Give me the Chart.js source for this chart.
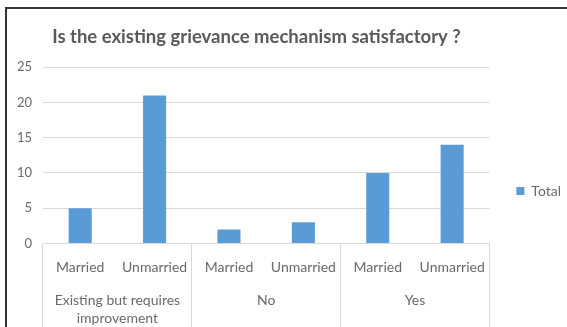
<!DOCTYPE html>
<html>
<head>
<meta charset="utf-8">
<title>Grievance mechanism</title>
<script src="https://cdn.jsdelivr.net/npm/chart.js@4"></script>
<style>
    html, body {
        margin: 0;
        padding: 0;
        background: #ffffff;
        overflow: hidden;
    }
    body {
        width: 567px;
        height: 327px;
        position: relative;
    }
    #frame {
        position: absolute;
        left: 5px;
        top: 7px;
        width: 700px;
        height: 400px;
        border: 2px solid #333333;
        pointer-events: none;
        z-index: 2;
    }
    #chart-wrap {
        position: absolute;
        left: -58px;
        top: 9px;
        width: 629px;
        height: 364px;
    }
</style>
</head>
<body>
<div id="frame"></div>
<div id="chart-wrap"><canvas id="grievance-chart"></canvas></div>
<script>
// marital status under each answer, then the answer itself
const statusLabels = ['Married', 'Unmarried', 'Married', 'Unmarried', 'Married', 'Unmarried'];
const answerLabels = [['Existing but requires', 'improvement'], 'No', 'Yes'];
const totals = [5, 21, 2, 3, 10, 14];

const yMax = 25;
const yStep = 5;

const TEXT_GREY = '#6a6a6a';
const GRID_GREY = '#d9d9d9';
const BAR_BLUE = '#5b9bd5';

const ctx = document.getElementById('grievance-chart').getContext('2d');

new Chart(ctx, {
    type: 'bar',
    data: {
        labels: statusLabels,
        datasets: [{
            label: 'Total',
            data: totals,
            backgroundColor: BAR_BLUE,
            borderWidth: 0,
            categoryPercentage: 1,
            barPercentage: 0.31
        }]
    },
    options: {
        responsive: true,
        maintainAspectRatio: false,
        devicePixelRatio: 1,
        animation: false,
        layout: { padding: 0 },
        plugins: {
            title: {
                display: true,
                text: 'Is the existing grievance mechanism satisfactory ?',
                color: '#595959',
                font: { family: 'Lato', size: 18.5, weight: 'bold' },
                padding: { top: 17, bottom: 19 }
            },
            legend: {
                display: true,
                position: 'right',
                fullSize: true,
                labels: {
                    boxWidth: 8,
                    boxHeight: 8,
                    padding: 27,
                    color: TEXT_GREY,
                    font: { family: 'Lato', size: 14 }
                }
            },
            tooltip: { enabled: false }
        },
        scales: {
            x: {
                position: 'bottom',
                weight: 0,
                offset: true,
                border: { display: false },
                grid: {
                    offset: true,
                    drawOnChartArea: false,
                    tickLength: 85,
                    lineWidth: 1,
                    // only the lines between answers, not between statuses
                    color: (c) => (c.type !== 'tick' || c.index % 2 === 0) ? GRID_GREY : 'rgba(0,0,0,0)'
                },
                ticks: {
                    color: TEXT_GREY,
                    font: { family: 'Lato', size: 14 },
                    padding: -69,
                    maxRotation: 0,
                    autoSkip: false
                },
                afterFit: (scale) => { scale.height = 39; }
            },
            x2: {
                type: 'category',
                labels: answerLabels,
                position: 'bottom',
                weight: 1,
                offset: true,
                border: { display: false },
                grid: { display: false },
                ticks: {
                    color: TEXT_GREY,
                    font: { family: 'Lato', size: 14, lineHeight: '18px' },
                    padding: 1,
                    maxRotation: 0,
                    autoSkip: false
                },
                afterFit: (scale) => { scale.height = 90.5; }
            },
            y: {
                min: 0,
                max: yMax,
                border: { display: false },
                grid: {
                    color: GRID_GREY,
                    drawTicks: false
                },
                ticks: {
                    stepSize: yStep,
                    color: TEXT_GREY,
                    font: { family: 'Lato', size: 13 },
                    padding: 11
                },
                afterFit: (scale) => { scale.width = 101; }
            }
        }
    }
});
</script>
</body>
</html>
